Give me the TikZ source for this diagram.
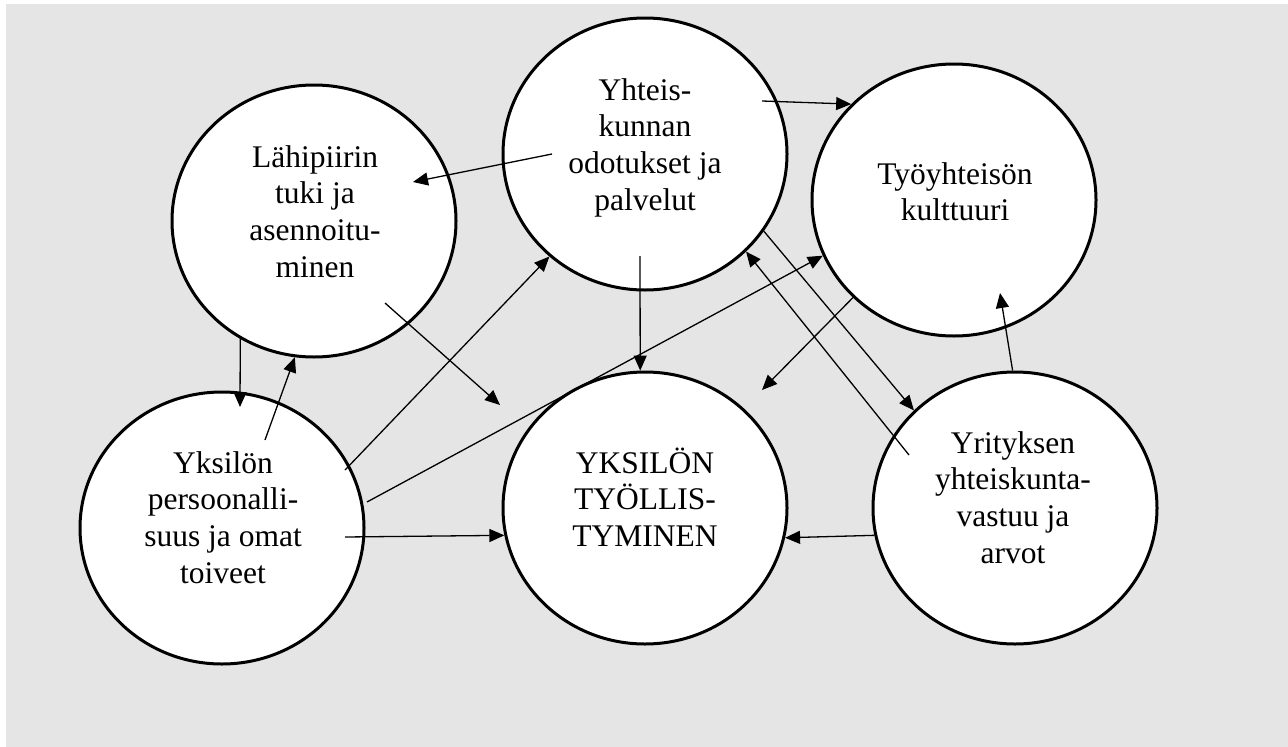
\documentclass[tikz,border=0pt]{standalone}
\usepackage{fontspec}
\setmainfont{Liberation Serif}
\usetikzlibrary{shapes.geometric,arrows.meta}
\definecolor{bggray}{RGB}{229,229,229}
\newcommand{\fstrut}{\rule{0pt}{28pt}}
\begin{document}
\begin{tikzpicture}[x=1pt,y=-1pt,
  oval/.style={ellipse,draw,line width=3pt,fill=white,minimum width=284pt,minimum height=272pt,inner sep=0pt},
  lbl/.style={anchor=north,align=center,inner sep=0pt,font=\fontsize{31.5}{36.7}\selectfont},
  arr/.style={line width=1.3pt,-{Triangle[length=15pt,width=13pt]}}]
\useasboundingbox (0,0) rectangle (1288,747);
\fill[bggray] (6,4) rectangle (1288,747);

% circles
\node[oval] (A) at (314,221) {};
\node[oval] (B) at (645,154) {};
\node[oval] (C) at (954,200) {};
\node[oval] (D) at (222,528) {};
\node[oval] (E) at (645,508) {};
\node[oval] (F) at (1015,508) {};

% labels
\node[lbl] (tA) at (315,139) {\fstrut Lähipiirin\\tuki ja\\asennoitu-\\minen};
\node[lbl] (tB) at (645,72) {\fstrut Yhteis-\\kunnan\\odotukset ja\\palvelut};
\node[lbl] (tC) at (955,156) {\fstrut Työyhteisön\\kulttuuri};
\node[lbl] (tD) at (223,445) {\fstrut Yksilön\\persoonalli-\\suus ja omat\\toiveet};
\node[lbl] (tE) at (645,445) {\fstrut YKSILÖN\\TYÖLLIS-\\TYMINEN};
\node[lbl] (tF) at (1013,425) {\fstrut Yrityksen\\yhteiskunta-\\vastuu ja\\arvot};

% free ends
\coordinate (bc0) at (762,101);
\coordinate (ba0) at (552,154);
\coordinate (ba1) at (413,182);
\coordinate (ae0) at (385,303);
\coordinate (ae1) at (500,405);
\coordinate (db0) at (345,470);
\coordinate (be0) at (640,256);
\coordinate (dc0) at (367,502);
\coordinate (ce1) at (762,390);
\coordinate (fb0) at (909,455);
\coordinate (fc1) at (1000,293);
\coordinate (de0) at (345,537);
\coordinate (ad1) at (240,407);
\coordinate (da0) at (265,440);

% connectors
\draw[arr] (bc0) -- (C.137);
\draw[arr] (ba0) -- (ba1);
\draw[arr] (ae0) -- (ae1);
\draw[arr] (db0) -- (B.227.3);
\draw[arr] (be0) -- (E.92.1);
\draw[arr] (dc0) -- (C.203.5);
\draw[arr] (C.224.4) -- (ce1);
\draw[arr] (B.-33.5) -- (F.136.6);
\draw[arr] (fb0) -- (B.316.4);
\draw[arr] (F.91.2) -- (fc1);
\draw[arr] (F.191.3) -- (E.348.5);
\draw[arr] (de0) -- (E.191.5);
\draw[arr] (A.238) -- (ad1);
\draw[arr] (da0) -- (A.262.2);
\end{tikzpicture}
\end{document}
